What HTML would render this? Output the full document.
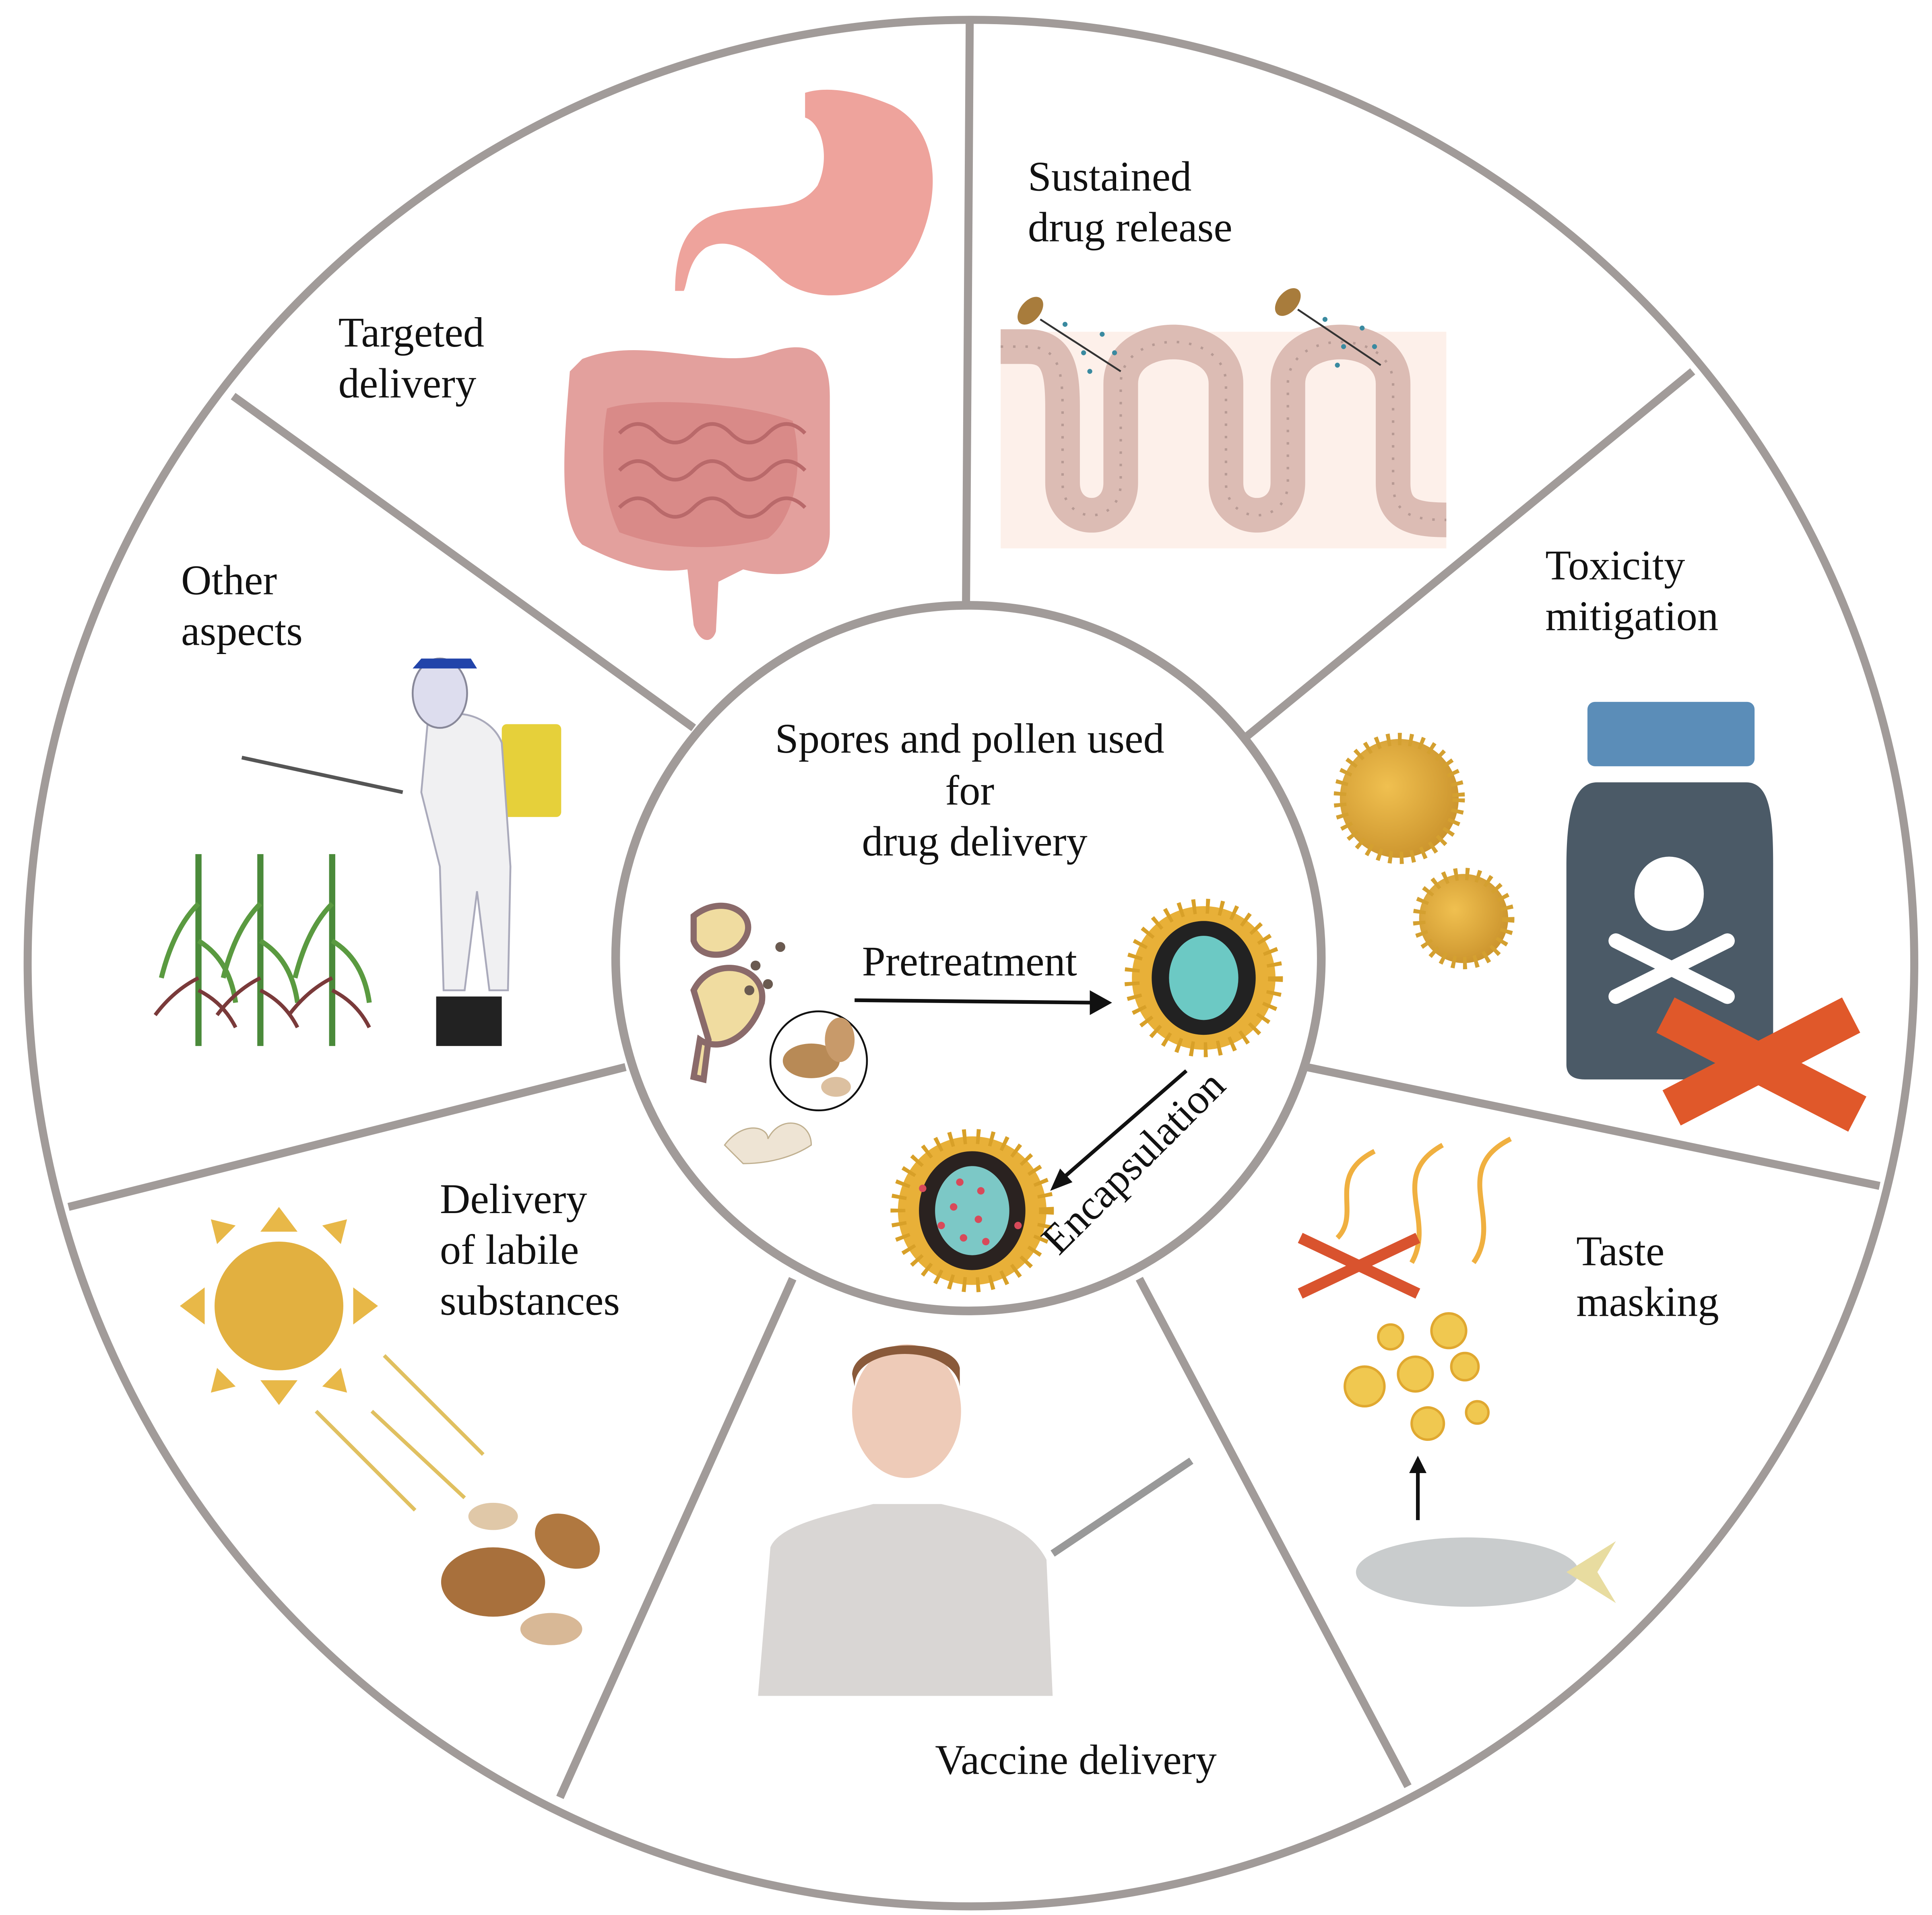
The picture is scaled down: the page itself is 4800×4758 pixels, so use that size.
<!DOCTYPE html>
<html><head><meta charset="utf-8"><style>html,body{margin:0;padding:0;background:#fff}svg{display:block}</style></head>
<body>
<svg xmlns="http://www.w3.org/2000/svg" width="4800" height="4758" viewBox="0 0 1560 1547">
<rect width="1560" height="1547" fill="#fff"/>
<defs>
<radialGradient id="sp" cx="0.4" cy="0.4" r="0.7"><stop offset="0" stop-color="#f0c050"/><stop offset="1" stop-color="#c8902a"/></radialGradient>
</defs>
<path d="M650 75 C665 70 690 72 720 85 C760 105 760 160 740 200 C720 240 660 250 630 225 C610 205 590 190 570 200 C555 210 555 230 552 235 L545 235 C545 200 555 175 590 170 C625 165 645 170 660 150 C670 130 665 100 650 95 Z" fill="#eea39c"/>
<path d="M470 290 C520 270 580 300 620 285 C650 275 670 280 670 320 L670 430 C670 460 640 470 600 460 L580 470 L578 510 C575 520 565 520 560 505 L555 460 C520 465 490 450 470 440 C450 420 455 360 460 300 Z" fill="#e3a09d"/>
<path d="M490 330 C520 320 600 325 640 340 C650 380 640 420 620 435 C580 445 540 445 500 430 C485 400 485 360 490 330Z" fill="#d98a88"/>
<g fill="none" stroke="#b9696a" stroke-width="3">
<path d="M500 350 q15 -15 30 0 t30 0 t30 0 t30 0 t30 0"/><path d="M500 380 q15 -15 30 0 t30 0 t30 0 t30 0 t30 0"/><path d="M500 410 q15 -15 30 0 t30 0 t30 0 t30 0 t30 0"/>
</g>
<rect x="808" y="268" width="360" height="175" fill="#fdf0ea"/>
<path d="M808 280 L830 280 C855 280 858 300 858 330 L858 390 C858 425 905 425 905 390 L905 310 C905 265 990 265 990 310 L990 390 C990 425 1040 425 1040 390 L1040 310 C1040 265 1125 265 1125 310 L1125 390 C1125 415 1140 420 1168 420" fill="none" stroke="#dcbcb4" stroke-width="28"/>
<path d="M808 280 L830 280 C855 280 858 300 858 330 L858 390 C858 425 905 425 905 390 L905 310 C905 265 990 265 990 310 L990 390 C990 425 1040 425 1040 390 L1040 310 C1040 265 1125 265 1125 310 L1125 390 C1125 415 1140 420 1168 420" fill="none" stroke="#b79a94" stroke-width="2" stroke-dasharray="2 8"/>
<ellipse cx="832" cy="251" rx="8" ry="13" transform="rotate(40 832 251)" fill="#a87c3c"/>
<ellipse cx="1040" cy="244" rx="8" ry="13" transform="rotate(40 1040 244)" fill="#a87c3c"/>
<line x1="840" y1="258" x2="905" y2="300" stroke="#333" stroke-width="1.5"/>
<line x1="1048" y1="250" x2="1115" y2="295" stroke="#333" stroke-width="1.5"/>
<g fill="#3a8aa0"><circle cx="860" cy="262" r="2"/><circle cx="875" cy="285" r="2"/><circle cx="890" cy="270" r="2"/><circle cx="880" cy="300" r="2"/><circle cx="900" cy="285" r="2"/><circle cx="1070" cy="258" r="2"/><circle cx="1085" cy="280" r="2"/><circle cx="1100" cy="265" r="2"/><circle cx="1080" cy="295" r="2"/><circle cx="1110" cy="280" r="2"/></g>
<circle cx="1130" cy="645" r="48" fill="url(#sp)" stroke="#d4a030" stroke-width="10" stroke-dasharray="3 6"/>
<circle cx="1182" cy="742" r="36" fill="url(#sp)" stroke="#d4a030" stroke-width="10" stroke-dasharray="3 6"/>
<rect x="1282" y="567" width="135" height="52" rx="6" fill="#5b8db8"/>
<path d="M1290 632 L1410 632 C1430 632 1432 660 1432 700 L1432 860 C1432 870 1425 872 1415 872 L1280 872 C1270 872 1265 868 1265 860 L1265 700 C1265 660 1270 632 1290 632Z" fill="#4b5a67"/>
<ellipse cx="1348" cy="722" rx="28" ry="30" fill="#fff"/>
<path d="M1305 760 L1395 805 M1395 760 L1305 805" stroke="#fff" stroke-width="12" stroke-linecap="round"/>
<path d="M1345 820 L1500 900 M1350 895 L1495 820" stroke="#e0582a" stroke-width="32"/>
<g fill="none" stroke="#f0b040" stroke-width="4"><path d="M1110 930 C1070 950 1100 980 1080 1000"/><path d="M1165 925 C1120 950 1160 985 1140 1020"/><path d="M1220 920 C1170 945 1215 985 1190 1020"/></g>
<path d="M1050 1000 L1145 1045 M1050 1045 L1145 1000" stroke="#d9532e" stroke-width="9"/>
<g fill="#f0c850" stroke="#e0a830" stroke-width="2"><circle cx="1123" cy="1080" r="10"/><circle cx="1170" cy="1075" r="14"/><circle cx="1102" cy="1120" r="16"/><circle cx="1143" cy="1110" r="14"/><circle cx="1183" cy="1104" r="11"/><circle cx="1153" cy="1150" r="13"/><circle cx="1193" cy="1141" r="9"/></g>
<line x1="1145" y1="1228" x2="1145" y2="1185" stroke="#111" stroke-width="3"/><path d="M1138 1190 L1145 1176 L1152 1190Z" fill="#111"/>
<ellipse cx="1185" cy="1270" rx="90" ry="28" fill="#c9cccd"/>
<path d="M1265 1270 L1305 1245 L1290 1270 L1305 1295Z" fill="#e8dca0"/>
<ellipse cx="732" cy="1140" rx="44" ry="54" fill="#eecbb8"/>
<path d="M690 1120 C690 1085 770 1085 775 1120 L775 1105 C770 1080 690 1080 688 1110Z" fill="#8a5a3a"/>
<path d="M612 1370 L622 1250 C630 1230 680 1222 705 1215 L760 1215 C790 1222 830 1230 845 1260 L850 1370Z" fill="#d9d6d4"/>
<line x1="850" y1="1255" x2="962" y2="1180" stroke="#999" stroke-width="6"/>
<circle cx="225" cy="1055" r="52" fill="#e2b040"/>
<g fill="#e8b848"><path d="M210 995 L240 995 L225 975Z"/><path d="M210 1115 L240 1115 L225 1135Z"/><path d="M165 1040 L165 1070 L145 1055Z"/><path d="M285 1040 L285 1070 L305 1055Z"/><path d="M175 1005 L190 990 L170 985Z"/><path d="M275 1005 L260 990 L280 985Z"/><path d="M175 1105 L190 1120 L170 1125Z"/><path d="M275 1105 L260 1120 L280 1125Z"/></g>
<g stroke="#e0c060" stroke-width="3"><line x1="310" y1="1095" x2="390" y2="1175"/><line x1="300" y1="1140" x2="375" y2="1210"/><line x1="255" y1="1140" x2="335" y2="1220"/></g>
<ellipse cx="398" cy="1225" rx="20" ry="11" fill="#e0c8a8"/><ellipse cx="458" cy="1245" rx="28" ry="20" fill="#b07840" transform="rotate(30 458 1245)"/><ellipse cx="398" cy="1278" rx="42" ry="28" fill="#a8703c"/><ellipse cx="445" cy="1316" rx="25" ry="13" fill="#d8b896"/>
<g stroke="#4a8a3a" stroke-width="5" fill="none"><path d="M160 690 L160 845"/><path d="M210 690 L210 845"/><path d="M268 690 L268 845"/></g>
<g stroke="#5a9a40" stroke-width="4" fill="none"><path d="M160 730 q-20 20 -30 60 M160 760 q25 15 30 50 M210 730 q-20 20 -30 60 M210 760 q25 15 30 50 M268 730 q-20 20 -30 60 M268 760 q25 15 30 50"/></g>
<g stroke="#7a3a3a" stroke-width="3" fill="none"><path d="M160 790 q-20 10 -35 30 M160 800 q20 10 30 30 M210 790 q-20 10 -35 30 M210 800 q20 10 30 30 M268 790 q-20 10 -35 30 M268 800 q20 10 30 30"/></g>
<rect x="405" y="585" width="48" height="75" rx="4" fill="#e6d03a"/>
<path d="M345 585 C360 570 395 575 405 600 L412 700 L410 800 L395 800 L385 720 L375 800 L358 800 L355 700 L340 640Z" fill="#f0f0f2" stroke="#aab" stroke-width="1.5"/>
<ellipse cx="355" cy="560" rx="22" ry="28" fill="#dde" stroke="#889" stroke-width="1.5"/>
<path d="M333 540 L385 540 L380 532 L340 532Z" fill="#2244aa"/>
<path d="M352 805 L405 805 L405 845 L352 845Z" fill="#222"/>
<line x1="195" y1="612" x2="325" y2="640" stroke="#555" stroke-width="3"/>
<g stroke="#a19b99" stroke-width="6.5" fill="none">
<circle cx="784" cy="778" r="762"/>
<line x1="780" y1="492" x2="783" y2="18"/>
<line x1="1003" y1="598" x2="1367" y2="300"/>
<line x1="1055" y1="862" x2="1518" y2="958"/>
<line x1="920" y1="1033" x2="1137" y2="1443"/>
<line x1="640" y1="1033" x2="452" y2="1452"/>
<line x1="505" y1="862" x2="55" y2="975"/>
<line x1="560" y1="588" x2="188" y2="320"/>
</g>
<circle cx="782" cy="774" r="285" fill="#fff" stroke="#a19b99" stroke-width="7"/>
<path d="M560 740 C585 720 615 740 600 760 C590 775 565 775 560 760Z" fill="#f0dca0" stroke="#8a6a6a" stroke-width="5"/>
<path d="M560 800 C575 770 620 780 615 810 C605 840 580 850 565 840 L560 870 L568 872 L572 840Z" fill="#f0dca0" stroke="#8a6a6a" stroke-width="5"/>
<g fill="#6a5a50"><circle cx="610" cy="780" r="4"/><circle cx="620" cy="795" r="4"/><circle cx="630" cy="765" r="4"/><circle cx="605" cy="800" r="4"/></g>
<ellipse cx="661" cy="857" rx="39" ry="40" fill="#fff" stroke="#111" stroke-width="1.5"/>
<ellipse cx="655" cy="857" rx="23" ry="14" fill="#b88a56"/><ellipse cx="678" cy="840" rx="12" ry="18" fill="#c89a6a"/><ellipse cx="675" cy="878" rx="12" ry="8" fill="#dcc0a0"/>
<path d="M585 925 C600 905 620 910 620 920 C630 900 655 905 655 925 C640 935 620 940 600 940Z" fill="#eee4d4" stroke="#c0b090"/>
<line x1="690" y1="808" x2="885" y2="810" stroke="#111" stroke-width="3"/><path d="M880 800 L898 810 L880 820Z" fill="#111"/>
<circle cx="972" cy="790" r="58" fill="#e8b038" stroke="#d8a028" stroke-width="12" stroke-dasharray="3 8"/>
<ellipse cx="972" cy="790" rx="42" ry="46" fill="#222"/><ellipse cx="972" cy="790" rx="28" ry="34" fill="#6cc9c4"/>
<line x1="958" y1="865" x2="858" y2="952" stroke="#111" stroke-width="3"/><path d="M848 962 L856 944 L866 955Z" fill="#111"/>
<circle cx="785" cy="978" r="60" fill="#e8b038" stroke="#d8a028" stroke-width="12" stroke-dasharray="3 8"/>
<ellipse cx="785" cy="978" rx="43" ry="48" fill="#2a2220"/><ellipse cx="785" cy="978" rx="30" ry="36" fill="#7cc8c6"/>
<g fill="#d84a5a"><circle cx="775" cy="955" r="3"/><circle cx="792" cy="962" r="3"/><circle cx="770" cy="975" r="3"/><circle cx="790" cy="985" r="3"/><circle cx="778" cy="1000" r="3"/><circle cx="796" cy="1003" r="3"/><circle cx="760" cy="990" r="3"/><circle cx="745" cy="960" r="3"/><circle cx="822" cy="990" r="3"/></g>
<g font-family="Liberation Serif, serif" font-size="34" fill="#111">
<text x="273" y="280">Targeted</text><text x="273" y="321">delivery</text>
<text x="830" y="154">Sustained</text><text x="830" y="195">drug release</text>
<text x="1248" y="468">Toxicity</text><text x="1248" y="509">mitigation</text>
<text x="1273" y="1022">Taste</text><text x="1273" y="1063">masking</text>
<text x="755" y="1433">Vaccine delivery</text>
<text x="355" y="980">Delivery</text><text x="355" y="1021">of labile</text><text x="355" y="1062">substances</text>
<text x="146" y="480">Other</text><text x="146" y="521">aspects</text>
<g text-anchor="middle"><text x="783" y="608">Spores and pollen used</text><text x="783" y="650">for</text><text x="787" y="691">drug delivery</text></g>
<text x="696" y="788">Pretreatment</text>
<text x="0" y="0" transform="translate(855 1015) rotate(-45)">Encapsulation</text>
</g>
</svg>
</body></html>
